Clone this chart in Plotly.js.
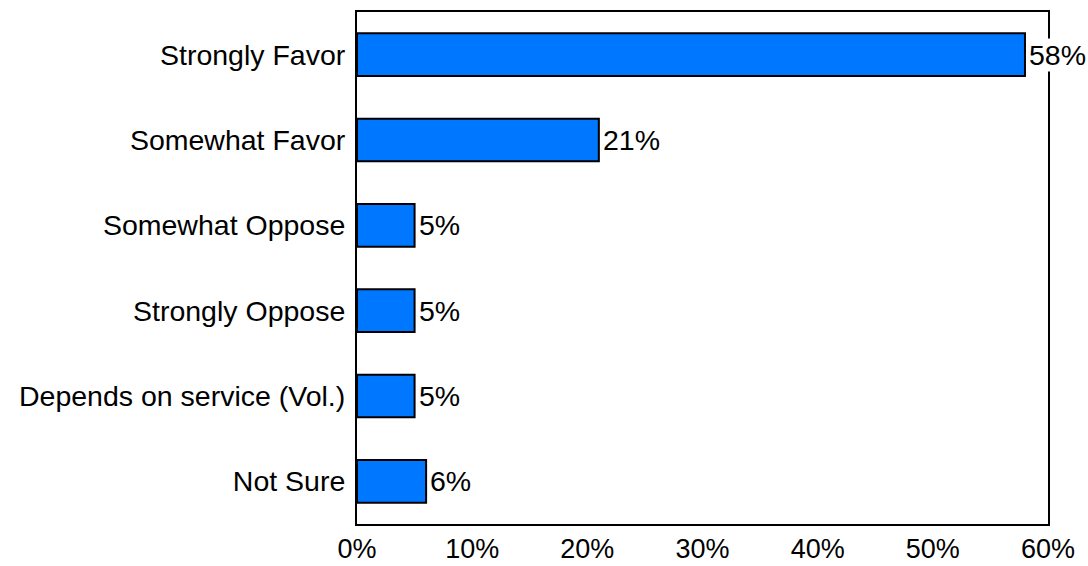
<!DOCTYPE html>
<html>
<head>
<script src="https://cdn.plot.ly/plotly-3.0.1.min.js"></script>
<style>html,body{margin:0;padding:0;background:#fff;}</style>
</head>
<body>
<div id="chart" style="width:1088px;height:566px;"></div>
<script>
const categories = ["Strongly Favor", "Somewhat Favor", "Somewhat Oppose", "Strongly Oppose", "Depends on service (Vol.)", "Not Sure"];
const values = [58, 21, 5, 5, 5, 6];
const labels = ["58%", "21%", "5%", "5%", "5%", "6%"];
const xTicks = [0, 10, 20, 30, 40, 50, 60];
const xTickText = ["0%", "10%", "20%", "30%", "40%", "50%", "60%"];

const font = {family: "Liberation Sans, Arial, sans-serif", size: 28.5, color: "#000"};
const xFont = {family: "Liberation Sans, Arial, sans-serif", size: 27, color: "#000"};

const trace = {
  type: "bar",
  orientation: "h",
  y: categories,
  x: values,
  width: 0.5,
  marker: {color: "#0077FF", line: {color: "#000", width: 2}},
  hoverinfo: "none"
};

const annotations = values.map((v, i) => ({
  x: v, y: categories[i], xref: "x", yref: "y",
  text: labels[i], showarrow: false, xanchor: "left", yanchor: "middle",
  xshift: 3, bgcolor: "#fff", borderpad: 0,
  font: font
}));

const layout = {
  width: 1088, height: 566,
  margin: {l: 357, r: 40, t: 12, b: 42},
  paper_bgcolor: "#fff", plot_bgcolor: "#fff",
  font: font,
  showlegend: false,
  bargap: 0.5,
  xaxis: {
    range: [0, 60], tickvals: xTicks, ticktext: xTickText,
    showgrid: false, zeroline: false,
    showline: true, linecolor: "#000", linewidth: 2, mirror: true,
    ticks: "", ticklabelstandoff: 0, tickfont: xFont, fixedrange: true
  },
  yaxis: {
    autorange: "reversed", type: "category",
    showgrid: false, zeroline: false,
    showline: true, linecolor: "#000", linewidth: 2, mirror: true,
    ticks: "", ticklabelstandoff: 4, tickfont: font, fixedrange: true
  },
  annotations: annotations
};

Plotly.newPlot("chart", [trace], layout, {displayModeBar: false, staticPlot: true});
</script>
</body>
</html>
